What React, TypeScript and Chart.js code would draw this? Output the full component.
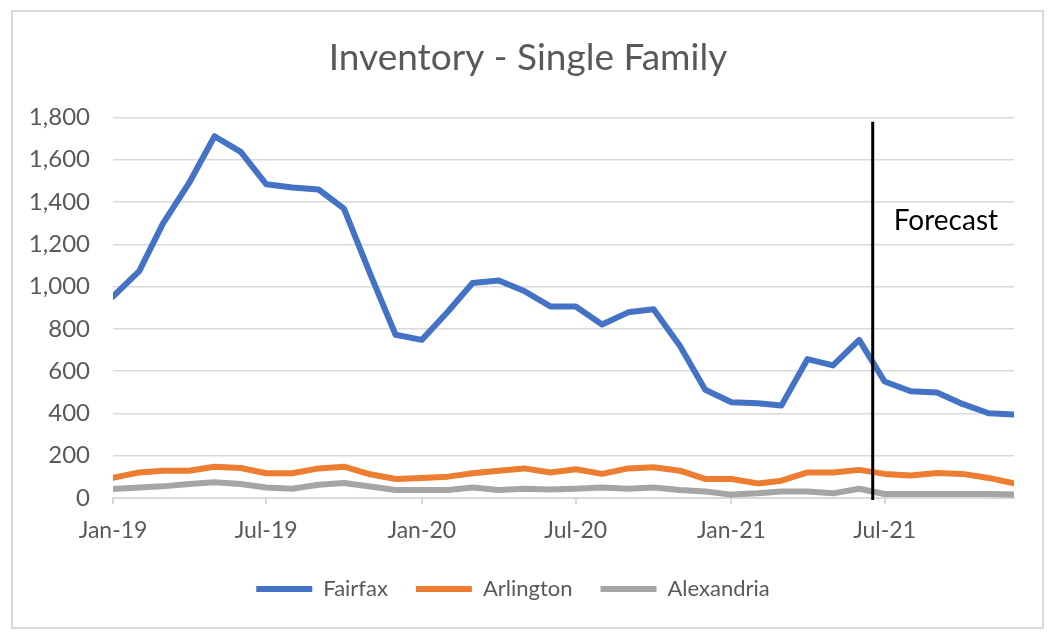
import React, { useEffect, useRef } from 'react';
import { Chart, registerables } from 'chart.js';

Chart.register(...registerables);

const months = [
  '2019-01-01', '2019-02-01', '2019-03-01', '2019-04-01', '2019-05-01', '2019-06-01',
  '2019-07-01', '2019-08-01', '2019-09-01', '2019-10-01', '2019-11-01', '2019-12-01',
  '2020-01-01', '2020-02-01', '2020-03-01', '2020-04-01', '2020-05-01', '2020-06-01',
  '2020-07-01', '2020-08-01', '2020-09-01', '2020-10-01', '2020-11-01', '2020-12-01',
  '2021-01-01', '2021-02-01', '2021-03-01', '2021-04-01', '2021-05-01', '2021-06-01',
  '2021-07-01', '2021-08-01', '2021-09-01', '2021-10-01', '2021-11-01', '2021-12-01',
];

const fairfax = [
  953, 1073, 1298, 1490, 1711, 1637, 1484, 1468, 1459, 1369, 1060, 772,
  748, 882, 1017, 1029, 979, 906, 906, 821, 878, 893, 720, 512,
  453, 448, 437, 657, 627, 748, 551, 505, 499, 445, 401, 395,
];

const arlington = [
  95, 121, 129, 129, 148, 142, 117, 117, 140, 148, 112, 90,
  95, 101, 117, 129, 140, 121, 136, 114, 140, 145, 129, 90,
  90, 69, 82, 121, 121, 133, 114, 106, 118, 114, 95, 69,
];

const alexandria = [
  43, 50, 55, 66, 74, 66, 50, 44, 63, 71, 54, 38,
  38, 38, 50, 38, 44, 40, 44, 50, 44, 50, 38, 31,
  16, 22, 31, 31, 22, 44, 19, 19, 19, 19, 19, 16,
];

const seriesNames = ['Fairfax', 'Arlington', 'Alexandria'];
const seriesColors = ['#4472C4', '#ED7D31', '#A5A5A5'];

const tickDates = ['2019-01-01', '2019-07-01', '2020-01-01', '2020-07-01', '2021-01-01', '2021-07-01'];
const tickLabels = ['Jan-19', 'Jul-19', 'Jan-20', 'Jul-20', 'Jan-21', 'Jul-21'];

const yTicks = [0, 200, 400, 600, 800, 1000, 1200, 1400, 1600, 1800];

const forecastDate = '2021-06-17';
const forecastTop = 1780;
const forecastBottom = -10;
const forecastLabel = 'Forecast';
const forecastLabelValue = 1310;

const titleText = 'Inventory - Single Family';

const FONT = "Lato, 'Open Sans', sans-serif";

const dayOf = (s: string) => {
  const [y, m, d] = s.split('-').map(Number);
  return (Date.UTC(y, m - 1, d) - Date.UTC(2019, 0, 1)) / 86400000;
};

const frameAndForecast = {
  id: 'frameAndForecast',
  beforeDraw(chart: any) {
    const { ctx, width, height } = chart;
    ctx.save();
    ctx.fillStyle = '#FFFFFF';
    ctx.fillRect(0, 0, width, height);
    ctx.strokeStyle = '#D9D9D9';
    ctx.lineWidth = 2;
    ctx.strokeRect(12, 11, 1031, 617);
    ctx.restore();
  },
  afterLayout(chart: any) {
    if (chart.titleBlock) {
      chart.titleBlock.left += 21;
      chart.titleBlock.right += 21;
    }
    if (chart.legend) {
      chart.legend.left += 6;
      chart.legend.right += 6;
    }
  },
  afterDatasetsDraw(chart: any) {
    const { ctx, scales } = chart;
    const x = scales.x.getPixelForValue(dayOf(forecastDate));
    const yTop = scales.y.getPixelForValue(forecastTop);
    const yBot = scales.y.getPixelForValue(forecastBottom);
    ctx.save();
    ctx.strokeStyle = '#000000';
    ctx.lineWidth = 3;
    ctx.beginPath();
    ctx.moveTo(x, yTop);
    ctx.lineTo(x, yBot);
    ctx.stroke();
    ctx.fillStyle = '#000000';
    ctx.font = `28px ${FONT}`;
    ctx.textAlign = 'left';
    ctx.textBaseline = 'middle';
    ctx.fillText(forecastLabel, x + 21, scales.y.getPixelForValue(forecastLabelValue));
    ctx.restore();
  },
};

export default function App() {
  const canvasRef = useRef<HTMLCanvasElement | null>(null);

  useEffect(() => {
    const canvas = canvasRef.current;
    if (!canvas) return;
    const xs = months.map(dayOf);
    const seriesValues = [fairfax, arlington, alexandria];
    const chart = new Chart(canvas, {
      type: 'line',
      data: {
        datasets: seriesValues.map((vals, i) => ({
          label: seriesNames[i],
          data: vals.map((v, j) => ({ x: xs[j], y: v })),
          borderColor: seriesColors[i],
          backgroundColor: seriesColors[i],
          borderWidth: 6,
          pointRadius: 0,
          pointHoverRadius: 0,
          pointStyle: 'line',
          tension: 0,
          borderCapStyle: 'round',
          borderJoinStyle: 'round',
          fill: false,
        })),
      },
      options: {
        animation: false,
        responsive: true,
        maintainAspectRatio: false,
        layout: { padding: { left: 0, right: 45, top: 0, bottom: 24 } },
        plugins: {
          title: {
            display: true,
            text: titleText,
            color: '#595959',
            font: { family: FONT, size: 37, weight: 'normal' },
            padding: { top: 36, bottom: 37 },
          },
          legend: {
            display: true,
            position: 'bottom',
            labels: {
              usePointStyle: true,
              pointStyleWidth: 56,
              boxHeight: 22,
              padding: 28,
              color: '#595959',
              font: { family: FONT, size: 22 },
            },
          },
          tooltip: { enabled: false },
        },
        scales: {
          x: {
            type: 'linear',
            min: dayOf(months[0]),
            max: dayOf(months[months.length - 1]),
            afterBuildTicks: (scale: any) => {
              scale.ticks = tickDates.map((d) => ({ value: dayOf(d) }));
            },
            afterFit: (scale: any) => {
              scale.height = 52;
            },
            ticks: {
              autoSkip: false,
              maxRotation: 0,
              minRotation: 0,
              padding: 13,
              color: '#595959',
              font: { family: FONT, size: 23 },
              callback: (_v: any, index: number) => tickLabels[index],
            },
            grid: {
              drawOnChartArea: false,
              drawTicks: true,
              tickLength: 6,
              color: '#D9D9D9',
              lineWidth: 2,
            },
            border: { display: true, color: '#D9D9D9', width: 2 },
          },
          y: {
            type: 'linear',
            min: yTicks[0],
            max: yTicks[yTicks.length - 1],
            afterBuildTicks: (scale: any) => {
              scale.ticks = yTicks.map((v) => ({ value: v }));
            },
            afterFit: (scale: any) => {
              scale.width = 113;
            },
            ticks: {
              padding: 23,
              color: '#595959',
              font: { family: FONT, size: 24 },
              callback: (v: any) => Number(v).toLocaleString('en-US'),
            },
            grid: {
              drawTicks: false,
              color: '#D9D9D9',
              lineWidth: 1.5,
            },
            border: { display: false },
          },
        },
      },
      plugins: [frameAndForecast],
    });
    return () => chart.destroy();
  }, []);

  return (
    <div style={{ position: 'absolute', left: 0, top: 0, width: 1059, height: 634 }}>
      <canvas ref={canvasRef} />
    </div>
  );
}
